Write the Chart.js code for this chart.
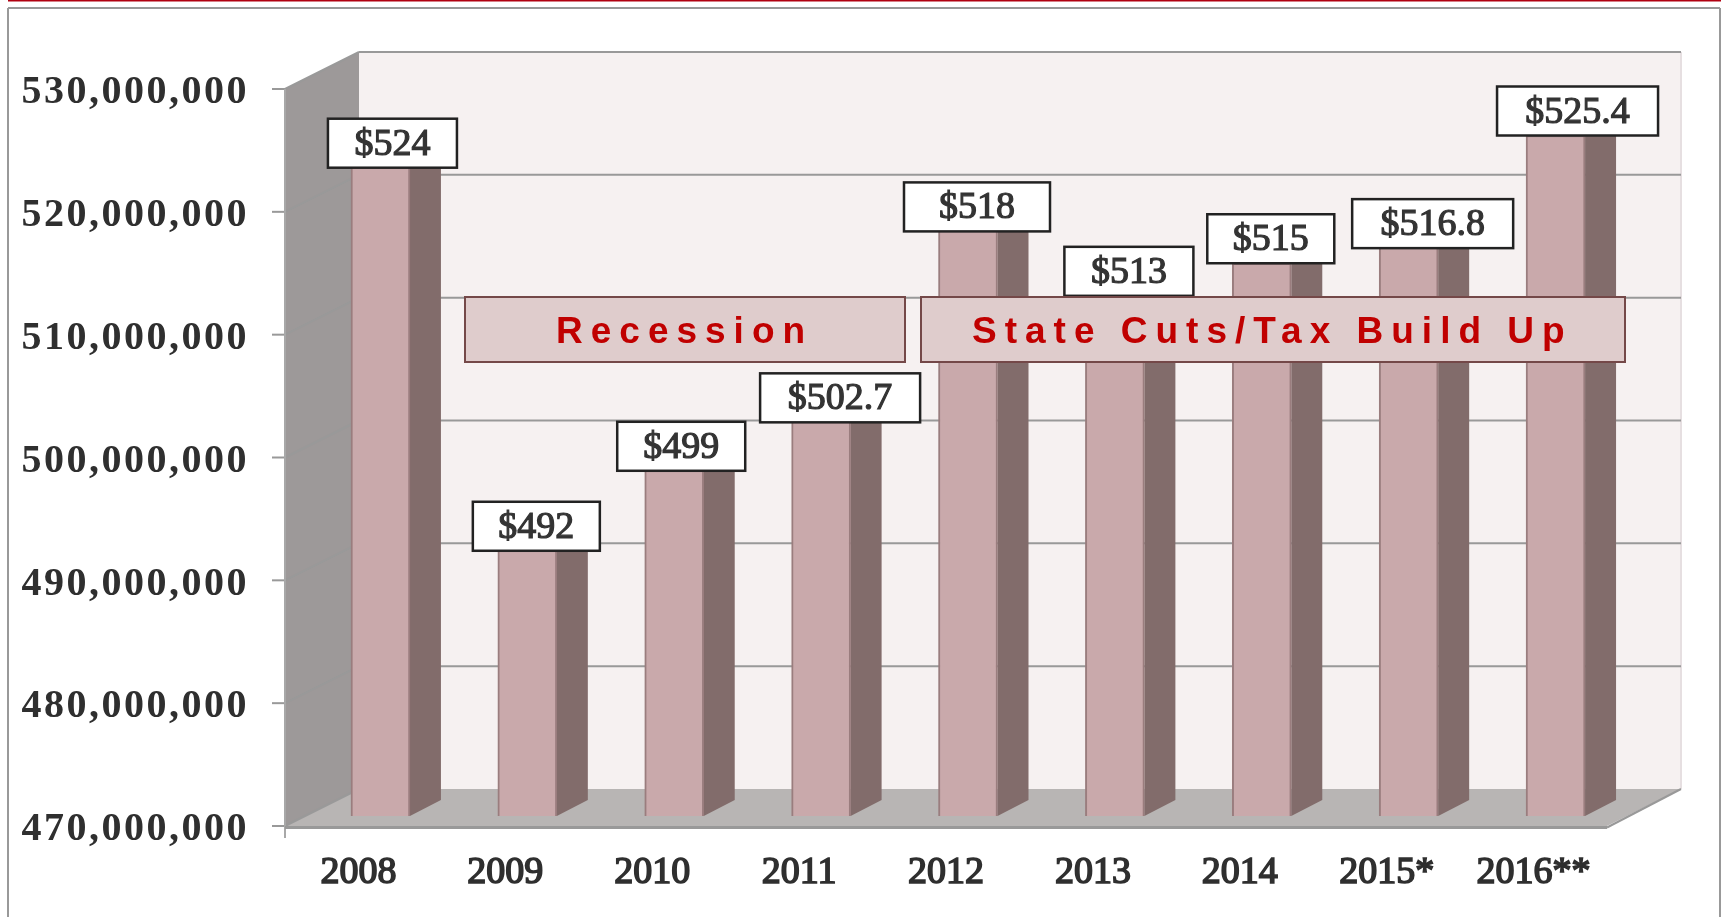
<!DOCTYPE html>
<html>
<head>
<meta charset="utf-8">
<title>Budget 2008-2016</title>
<script src="https://cdn.jsdelivr.net/npm/chart.js@4"></script>
<style>
  html, body { margin: 0; background: #fff; }
  canvas { display: block; }
</style>
</head>
<body>
<canvas id="chart" width="1721" height="917"></canvas>
<script>
const years = ["2008", "2009", "2010", "2011", "2012", "2013", "2014", "2015*", "2016**"];
const valuesMillions = [524, 492, 499, 502.7, 518, 513, 515, 516.8, 525.4];
const barLabels = ["$524", "$492", "$499", "$502.7", "$518", "$513", "$515", "$516.8", "$525.4"];
const yMin = 470000000;
const yMax = 530000000;
const yStep = 10000000;

// label boxes sit a little off the bar tops in the original
const boxWidths = [129, 127, 128, 160, 146, 129, 127, 161, 161];
const boxShiftX = [12, 9, 7, 19, 9, 14, 9, 24, 22];
const boxShiftY = [15, 5, 11, 8, 5, 8, 0, 7, 0];
const boxHeight = 49;

const bands = [
  { text: "Recession", x: 465, y: 297, w: 440, h: 65, textX: 556 },
  { text: "State Cuts/Tax Build Up", x: 921, y: 297, w: 704, h: 65, textX: 972 },
];

// depth of the fake 3d box, relative to the plane the bars stand on
const frontDx = -22, frontDy = 10;
const backDx = 52, backDy = -27;
const barDepthX = 31, barDepthY = -16;

function poly(ctx, pts, fill) {
  ctx.beginPath();
  pts.forEach((p, i) => (i ? ctx.lineTo(p[0], p[1]) : ctx.moveTo(p[0], p[1])));
  ctx.closePath();
  ctx.fillStyle = fill;
  ctx.fill();
}

function line(ctx, x1, y1, x2, y2, color, width) {
  ctx.beginPath();
  ctx.moveTo(x1, y1);
  ctx.lineTo(x2, y2);
  ctx.strokeStyle = color;
  ctx.lineWidth = width;
  ctx.stroke();
}

const framePlugin = {
  id: "frame",
  beforeDraw(chart) {
    const ctx = chart.ctx;
    ctx.save();
    line(ctx, 8, 0.5, 1721, 0.5, "#b00010", 2);
    line(ctx, 8, 917, 8, 8, "#999", 2);
    line(ctx, 8, 8, 1720, 8, "#999", 2);
    line(ctx, 1720, 8, 1720, 917, "#999", 2);
    ctx.restore();
  },
};

const boxPlugin = {
  id: "box3d",
  beforeDatasetsDraw(chart) {
    const ctx = chart.ctx;
    const { left, right } = chart.chartArea;
    const y = chart.scales.y;
    const top = y.getPixelForValue(yMax);
    const bottom = y.getPixelForValue(yMin);
    ctx.save();
    // back wall, left wall, floor
    poly(ctx, [[left + backDx, top + backDy], [right + backDx, top + backDy], [right + backDx, bottom + backDy], [left + backDx, bottom + backDy]], "#f6f1f1");
    line(ctx, right + backDx, top + backDy, right + backDx, bottom + backDy, "#e6dfe1", 2);
    poly(ctx, [[left + frontDx, top + frontDy], [left + backDx, top + backDy], [left + backDx, bottom + backDy], [left + frontDx, bottom + frontDy]], "#9d9999");
    poly(ctx, [[left + frontDx, bottom + frontDy], [left + backDx, bottom + backDy], [right + backDx, bottom + backDy], [right + frontDx, bottom + frontDy]], "#b8b5b4");
    // gridlines wrap from the axis across the left wall and the back
    y.ticks.forEach((t) => {
      const py = y.getPixelForValue(t.value);
      if (t.value > yMin) {
        line(ctx, left + backDx, py + backDy, right + backDx, py + backDy, "#999", 2);
      }
      line(ctx, left + frontDx, py + frontDy, left + backDx, py + backDy, "#999", 2);
      line(ctx, left + frontDx - 13, py + frontDy, left + frontDx, py + frontDy, "#999", 2);
    });
    line(ctx, left + frontDx, top + frontDy, left + frontDx, bottom + frontDy + 12, "#a8a8a8", 2);
    line(ctx, left + frontDx, bottom + frontDy + 1.5, right + frontDx, bottom + frontDy + 1.5, "#999", 3);
    line(ctx, right + frontDx, bottom + frontDy + 1.5, right + backDx, bottom + backDy, "#999", 2);
    // side faces of the bars
    chart.getDatasetMeta(0).data.forEach((bar) => {
      const xr = bar.x + bar.width / 2;
      poly(ctx, [[xr, bar.y], [xr + barDepthX, bar.y + barDepthY], [xr + barDepthX, bar.base + barDepthY], [xr, bar.base]], "#826c6b");
    });
    ctx.restore();
  },
  afterDatasetsDraw(chart) {
    const ctx = chart.ctx;
    ctx.save();
    // value boxes
    chart.getDatasetMeta(0).data.forEach((bar, i) => {
      const cx = bar.x + boxShiftX[i];
      const by = bar.y + boxShiftY[i];
      ctx.fillStyle = "#fff";
      ctx.strokeStyle = "#222";
      ctx.lineWidth = 2.5;
      ctx.fillRect(cx - boxWidths[i] / 2, by - boxHeight, boxWidths[i], boxHeight);
      ctx.strokeRect(cx - boxWidths[i] / 2, by - boxHeight, boxWidths[i], boxHeight);
      ctx.fillStyle = "#333";
      ctx.strokeStyle = "#333";
      ctx.lineWidth = 1.2;
      ctx.font = "38px 'Liberation Serif'";
      ctx.textAlign = "center";
      ctx.textBaseline = "alphabetic";
      ctx.strokeText(barLabels[i], cx, by - 13);
      ctx.fillText(barLabels[i], cx, by - 13);
    });
    // period bands
    bands.forEach((b) => {
      ctx.fillStyle = "#dfcccc";
      ctx.strokeStyle = "#744848";
      ctx.lineWidth = 2;
      ctx.fillRect(b.x, b.y, b.w, b.h);
      ctx.strokeRect(b.x, b.y, b.w, b.h);
      ctx.fillStyle = "#c00000";
      ctx.font = "bold 37px 'Liberation Sans'";
      ctx.textAlign = "left";
      ctx.textBaseline = "alphabetic";
      ctx.letterSpacing = "8px";
      ctx.fillText(b.text, b.textX, b.y + 46);
    });
    ctx.restore();
    // y tick labels are layered after the datasets (z: 1) and are spaced wider
    ctx.letterSpacing = "2.5px";
  },
  afterDraw(chart) {
    chart.ctx.letterSpacing = "0px";
  },
};

new Chart(document.getElementById("chart").getContext("2d"), {
  type: "bar",
  data: {
    labels: years,
    datasets: [
      {
        data: valuesMillions.map((v) => v * 1000000),
        base: yMin,
        clip: false,
        backgroundColor: "#c9a9ab",
        borderColor: "#9a7d7e",
        borderWidth: 2,
        barThickness: 59,
      },
    ],
  },
  plugins: [framePlugin, boxPlugin],
  options: {
    responsive: false,
    animation: false,
    layout: { padding: { top: 79, right: 92, left: 0, bottom: 0 } },
    plugins: { legend: { display: false }, tooltip: { enabled: false } },
    scales: {
      x: {
        grid: { display: false, drawTicks: false },
        border: { display: false },
        afterFit: (scale) => { scale.height = 101; },
        ticks: {
          autoSkip: false,
          maxRotation: 0,
          labelOffset: frontDx,
          padding: 34,
          color: "#2f2f2f",
          textStrokeColor: "#2f2f2f",
          textStrokeWidth: 1.6,
          font: { family: "'Liberation Serif'", size: 38 },
        },
      },
      y: {
        min: yMin,
        max: yMax,
        grid: { display: false, drawTicks: false },
        border: { display: false },
        afterFit: (scale) => {
          scale.width = 307;
          // ticks.padding otherwise pushes the plot area down
          scale.paddingTop = 0;
          scale.paddingBottom = 0;
        },
        ticks: {
          stepSize: yStep,
          z: 1,
          labelOffset: frontDy + 4,
          padding: 58,
          color: "#2f2f2f",
          font: { family: "'Liberation Serif'", size: 40, weight: "bold" },
          callback: (v) => v.toLocaleString("en-US"),
        },
      },
    },
  },
});
</script>
</body>
</html>
